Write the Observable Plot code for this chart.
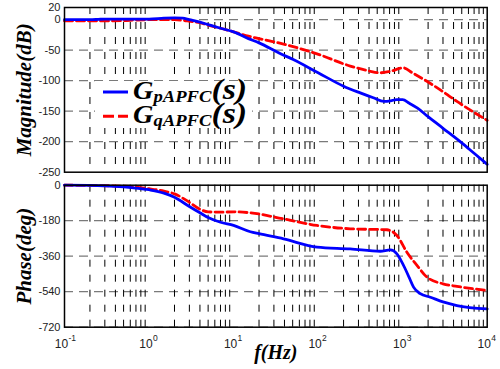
<!DOCTYPE html>
<html>
<head>
<meta charset="utf-8">
<script src="https://cdn.jsdelivr.net/npm/d3@7"></script>
<script src="https://cdn.jsdelivr.net/npm/@observablehq/plot@0.6"></script>
<style>
  body { margin: 0; background: #fff; }
  #chart { position: relative; width: 500px; height: 369px; overflow: hidden; background: #fff; }
  #chart > svg { display: block; overflow: visible; }
  #legend { position: absolute; left: 95px; top: 81px; }
  #legend text { font-family: "Liberation Serif", "Times New Roman", serif; font-weight: bold; font-style: italic; fill: #000; }
</style>
</head>
<body>
<div id="chart"></div>
<script>
// Bode plot of the two APFC transfer functions (magnitude and phase vs frequency)

// Magnitude, G_pAPFC(s)
const magFreqP = [0.1, 0.2, 0.25, 0.3, 0.5, 1, 1.5, 2, 2.5, 3, 4, 5, 7, 10, 15, 20, 35, 50, 100, 200, 315, 450, 600, 720, 850, 1000, 1200, 1500, 2000, 3000, 5000, 7000, 10000];
const magP     = [0, 0, 0.5, 1, 1, 1, 2.5, 3, 2.5, 0, -4, -8, -14, -20, -31, -38, -55, -65, -87, -109, -120, -128, -134, -133, -131, -131, -137, -145, -159, -178, -202, -219, -237];

// Magnitude, G_qAPFC(s)
const magFreqQ = [0.1, 0.3, 0.5, 0.7, 1, 2, 2.5, 3, 4, 5, 7, 10, 15, 20, 39, 97, 240, 400, 543, 700, 1025, 1300, 1936, 3000, 4385, 7000, 10000];
const magQ     = [-2, -2, -1.5, -0.5, 0, 0, -1, -2.5, -5, -9, -14, -20, -27, -31, -40, -56, -76, -84, -87, -85, -79, -87, -101, -118, -134, -152, -165];

// Phase, G_pAPFC(s)
const phFreqP = [0.1, 0.3, 0.5, 1, 1.5, 2, 3, 4, 5, 7, 10, 15.8, 20, 39, 97, 240, 543, 713, 855, 950, 1050, 1200, 1345, 1615, 2130, 3000, 4385, 10000];
const phP     = [0, -3, -8, -23, -40, -61, -108, -140, -164, -188, -204, -236, -246, -272, -314, -323, -335, -328, -348, -380, -416, -470, -517, -550, -568, -592, -610, -627];

// Phase, G_qAPFC(s)
const phFreqQ = [0.1, 0.5, 1, 1.5, 2, 2.8, 4, 5, 7, 10, 15.8, 39, 97, 240, 652, 855, 1122, 1500, 1936, 3000, 4385, 10000];
const phQ     = [0, -5, -18, -30, -44, -78, -122, -135, -137, -135, -140, -171, -204, -221, -226, -255, -340, -410, -466, -500, -513, -534];

// Axis ticks
const magTicks = [20, 0, -50, -100, -150, -200, -250];
const magGrid = [0, -50, -100, -150, -200];
const phaseTicks = [0, -180, -360, -540, -720];
const phaseGrid = [-180, -360, -540, -720];
const decades = [0.1, 1, 10, 100, 1000, 10000];
const decadeExponents = ["-1", "0", "1", "2", "3", "4"];
const minorMultipliers = [2, 3, 4, 5, 6, 7, 8, 9];

const BLUE = "#0000ff";
const RED = "#ff0000";
const serif = "'Liberation Serif', 'Times New Roman', serif";
const sans = "'Liberation Sans', Arial, sans-serif";

const series = (freqs, vals) => freqs.map((f, i) => ({f, v: vals[i]}));
const minorTicks = decades.slice(0, -1).flatMap(d => minorMultipliers.map(m => +(d * m).toPrecision(3)));

const xScale = {type: "log", domain: [0.1, 10000]};

function gridMarks(hLines) {
  return [
    Plot.ruleY(hLines, {stroke: "#7a7a7a", strokeWidth: 1.2, strokeDasharray: "9,6"}),
    Plot.ruleX(minorTicks, {stroke: "#000", strokeWidth: 1, strokeDasharray: "7,8"})
  ];
}

function curveMarks(p, q) {
  return [
    Plot.line(q, {x: "f", y: "v", stroke: RED, strokeWidth: 2.8, strokeDasharray: "8,4", curve: "monotone-x"}),
    Plot.line(p, {x: "f", y: "v", stroke: BLUE, strokeWidth: 2.8, curve: "monotone-x"})
  ];
}

const axisTitle = (label) => Plot.text([label], {
  frameAnchor: "left", dx: -40, rotate: -90, textAnchor: "middle", lineAnchor: "middle",
  fontSize: 21, fontFamily: serif, fontWeight: "bold", fontStyle: "italic", fill: "#000"
});

const yTickAxis = (ticks) => Plot.axisY(ticks, {
  anchor: "left", tickSize: 0, tickPadding: 4, tickFormat: d => String(d),
  fontSize: 11, fontFamily: sans, fill: "#222", label: null
});

// Magnitude panel
const magPlot = Plot.plot({
  width: 500,
  height: 177,
  marginTop: 7,
  marginBottom: 5.3,
  marginLeft: 64,
  marginRight: 13.3,
  style: {background: "#fff", overflow: "visible"},
  x: {...xScale, axis: null},
  y: {domain: [-250, 20], axis: null},
  marks: [
    axisTitle("Magnitude(dB)"),
    ...gridMarks(magGrid),
    ...curveMarks(series(magFreqP, magP), series(magFreqQ, magQ)),
    Plot.frame({stroke: "#000", strokeWidth: 1.5}),
    yTickAxis(magTicks)
  ]
});

// Phase panel
const phasePlot = Plot.plot({
  width: 500,
  height: 192,
  marginTop: 7.7,
  marginBottom: 42.3,
  marginLeft: 64,
  marginRight: 13.3,
  style: {background: "#fff", overflow: "visible"},
  x: {...xScale, axis: null},
  y: {domain: [-720, 0], axis: null},
  marks: [
    axisTitle("Phase(deg)"),
    ...gridMarks(phaseGrid),
    ...curveMarks(series(phFreqP, phP), series(phFreqQ, phQ)),
    Plot.frame({stroke: "#000", strokeWidth: 1.5}),
    yTickAxis(phaseTicks),
    Plot.text(decades, {x: d => d, text: () => "10", frameAnchor: "bottom", dy: 17, dx: -3, lineAnchor: "middle", textAnchor: "middle", fontSize: 12, fontFamily: sans, fill: "#222"}),
    Plot.text(decades, {x: d => d, text: (d, i) => decadeExponents[i], frameAnchor: "bottom", dy: 11, dx: 4, lineAnchor: "middle", textAnchor: "start", fontSize: 8.5, fontFamily: sans, fill: "#222"}),
    Plot.text(["f(Hz)"], {frameAnchor: "bottom", dy: 25, lineAnchor: "middle", fontSize: 20, fontFamily: serif, fontWeight: "bold", fontStyle: "italic", fill: "#000"})
  ]
});

const chart = document.getElementById("chart");
chart.append(magPlot, phasePlot);

// Legend for the two transfer functions
const legendItems = [
  {sub: "pAPFC", color: BLUE, dash: null},
  {sub: "qAPFC", color: RED, dash: "11,4"}
];
const ns = "http://www.w3.org/2000/svg";
const legend = document.createElementNS(ns, "svg");
legend.setAttribute("id", "legend");
legend.setAttribute("width", 157);
legend.setAttribute("height", 47);
const bg = document.createElementNS(ns, "rect");
bg.setAttribute("width", 157);
bg.setAttribute("height", 47);
bg.setAttribute("fill", "#fff");
legend.append(bg);
legendItems.forEach((item, i) => {
  const base = 18 + i * 24.3;
  const line = document.createElementNS(ns, "line");
  line.setAttribute("x1", 8);
  line.setAttribute("x2", 33);
  line.setAttribute("y1", base - 7);
  line.setAttribute("y2", base - 7);
  line.setAttribute("stroke", item.color);
  line.setAttribute("stroke-width", 3);
  if (item.dash) line.setAttribute("stroke-dasharray", item.dash);
  legend.append(line);
  const text = document.createElementNS(ns, "text");
  text.setAttribute("transform", `translate(38,${base}) scale(1.13,1)`);
  const g = document.createElementNS(ns, "tspan");
  g.setAttribute("font-size", 25);
  g.textContent = "G";
  const s = document.createElementNS(ns, "tspan");
  s.setAttribute("font-size", 16.5);
  s.setAttribute("dy", 3);
  s.textContent = item.sub;
  const t = document.createElementNS(ns, "tspan");
  t.setAttribute("font-size", 30);
  t.setAttribute("dy", -3);
  t.textContent = "(s)";
  text.append(g, s, t);
  legend.append(text);
});
chart.append(legend);
</script>
</body>
</html>
